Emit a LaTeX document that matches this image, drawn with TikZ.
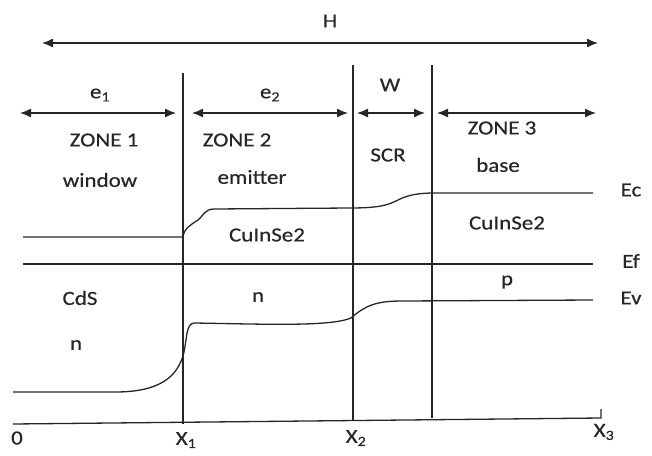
\documentclass[tikz,border=0pt]{standalone}
\usepackage{fontspec}
\setmainfont{Carlito}[FakeStretch=1.15,FakeBold=0.4]
\usetikzlibrary{arrows.meta}
\definecolor{ink}{HTML}{262626}
\definecolor{txt}{HTML}{262626}
\tikzset{
  lbl/.style={text=txt,font=\fontsize{20}{24}\selectfont,inner sep=0pt},
  band/.style={draw=ink,line width=1.3pt},
  vline/.style={draw=ink,line width=1.3pt},
  dimarrow/.style={draw=ink,line width=1.3pt,{Latex[length=11pt,width=9pt]}-{Latex[length=11pt,width=9pt]}}
}
\begin{document}
\begin{tikzpicture}[x=1pt,y=-1pt]
\useasboundingbox (0,0) rectangle (652,455);
% dimension coordinates
\coordinate (hL) at (42,43);
\coordinate (hR) at (598,43);
\coordinate (e1L) at (20,113);
\coordinate (e1R) at (176,113);
\coordinate (e2L) at (192,113);
\coordinate (e2R) at (348,113);
\coordinate (wL) at (357,113);
\coordinate (wR) at (425,113);
\coordinate (z3L) at (437,113);
\coordinate (z3R) at (596,113);
\draw[dimarrow] (hL) -- (hR);
\draw[dimarrow] (e1L) -- (e1R);
\draw[dimarrow] (e2L) -- (e2R);
\draw[dimarrow] (wL) -- (wR);
\draw[dimarrow] (z3L) -- (z3R);
% vertical lines
\coordinate (v1t) at (183,73);
\coordinate (v1b) at (183,424);
\coordinate (v2t) at (353,65);
\coordinate (v2b) at (353,421);
\coordinate (v3t) at (432,65);
\coordinate (v3b) at (432,418);
\draw[vline] (v1t) -- (v1b);
\draw[vline] (v2t) -- (v2b);
\draw[vline] (v3t) -- (v3b);
% axis
\coordinate (ax0) at (13,424);
\coordinate (ax3) at (601,418);
\coordinate (tk) at (601,409);
\draw[vline] (ax0) -- (ax3) -- (tk);
% Ec
\coordinate (ecL) at (23,237);
\coordinate (ecR) at (593,193);
\draw[band] (ecL) -- (183,237) .. controls (184,228) and (192,224) .. (198,220)
  .. controls (204,215) and (205,209) .. (214,209) -- (350,208)
  .. controls (380,208) and (388,205) .. (398,200)
  .. controls (408,195) and (418,193) .. (435,193) -- (ecR);
% Ef
\coordinate (efL) at (23,264);
\coordinate (efR) at (593,264);
\draw[band] (efL) -- (efR);
% Ev
\coordinate (evL) at (13,392);
\coordinate (evR) at (593,300);
\draw[band] (evL) -- (115,392) .. controls (158,392) and (178,378) .. (184,352)
  .. controls (187,338) and (186,324) .. (194,323)
  .. controls (260,324) and (330,327) .. (351,318)
  .. controls (365,306) and (375,301) .. (402,301) -- (evR);
% labels
\node[lbl] (H) at (330,21) {H};
\node[lbl] (e1) at (100,95) {e\textsubscript{1}};
\node[lbl] (e2) at (270,95) {e\textsubscript{2}};
\node[lbl] (W) at (390,85) {W};
\node[lbl] (z1) at (104,140) {ZONE 1};
\node[lbl] (z2) at (237,140) {ZONE 2};
\node[lbl] (scr) at (388,155) {SCR};
\node[lbl] (z3) at (502,128) {ZONE 3};
\node[lbl] (win) at (100,180) {window};
\node[lbl] (emi) at (252,177) {emitter};
\node[lbl] (base) at (498,165) {base};
\node[lbl] (cis1) at (267,235) {CuInSe2};
\node[lbl] (cis2) at (507,223) {CuInSe2};
\node[lbl] (cds) at (80,298) {CdS};
\node[lbl] (n1) at (76,345) {n};
\node[lbl] (n2) at (258,297) {n};
\node[lbl] (p) at (507,282) {p};
\node[lbl] (Ec) at (631,190) {Ec};
\node[lbl] (Ef) at (631,261) {Ef};
\node[lbl] (Ev) at (631,298) {Ev};
\node[lbl] (x0) at (17,438) {0};
\node[lbl] (x1) at (186,440) {X\textsubscript{1}};
\node[lbl] (x2) at (356,438) {X\textsubscript{2}};
\node[lbl] (x3) at (604,432) {X\textsubscript{3}};
\end{tikzpicture}
\end{document}
